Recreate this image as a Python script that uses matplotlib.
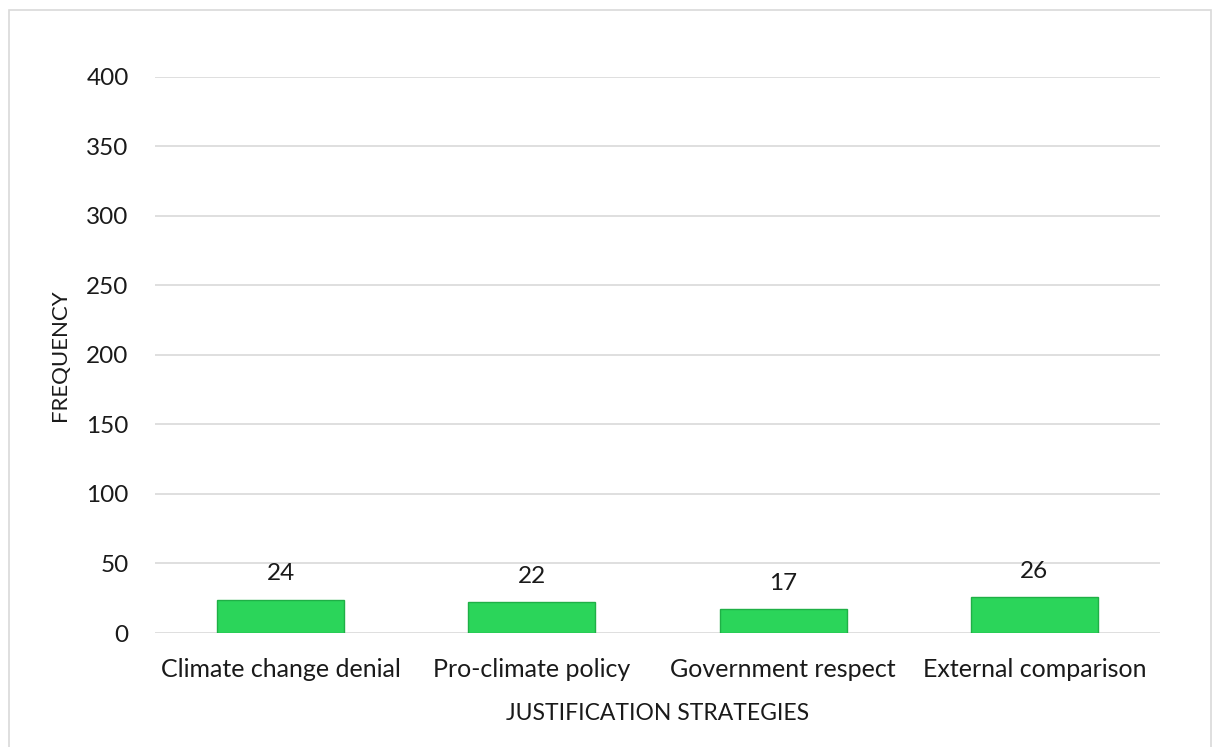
import matplotlib.pyplot as plt
from matplotlib.patches import Rectangle

categories = ["Climate change denial", "Pro-climate policy",
              "Government respect", "External comparison"]
frequency = [24, 22, 17, 26]
y_ticks = [0, 50, 100, 150, 200, 250, 300, 350, 400]

plt.rcParams['font.family'] = ['Lato', 'DejaVu Sans']

fig = plt.figure(figsize=(12.14, 7.47), dpi=100)
ax = fig.add_axes([0.1277, 0.1526, 0.8278, 0.7444])

x = range(len(categories))
bars = ax.bar(x, frequency, width=0.505, color='#2bd55a',
              edgecolor='#1fb046', linewidth=1.0, zorder=3)
for b, v in zip(bars, frequency):
    ax.text(b.get_x() + b.get_width() / 2, v + 11, str(v),
            ha='center', va='bottom', fontsize=17.5, color='#1a1a1a')

ax.set_xlim(-0.5, len(categories) - 0.5)
ax.set_ylim(0, 400)
ax.set_yticks(y_ticks)
ax.set_yticklabels([str(t) for t in y_ticks], fontsize=17.5, color='#1a1a1a')
ax.set_xticks(list(x))
ax.set_xticklabels(categories, fontsize=18, color='#1a1a1a')
ax.tick_params(axis='both', length=0)
ax.tick_params(axis='y', pad=19)
ax.tick_params(axis='x', pad=18)

ax.yaxis.grid(True, color='#d9d9d9', linewidth=1.2, zorder=0)
for s in ax.spines.values():
    s.set_visible(False)

ax.set_xlabel("JUSTIFICATION STRATEGIES", fontsize=16.5, color='#1a1a1a',
              labelpad=16)
ax.set_ylabel("FREQUENCY", fontsize=16, color='#1a1a1a', labelpad=12)

# light frame around the whole chart
fig.patches.append(Rectangle((9 / 1214, -0.01), 1202 / 1214, 1 - 10 / 747 + 0.01,
                             transform=fig.transFigure, fill=False,
                             edgecolor='#d9d9d9', linewidth=1.2))

fig.savefig("out.png", dpi=100)
